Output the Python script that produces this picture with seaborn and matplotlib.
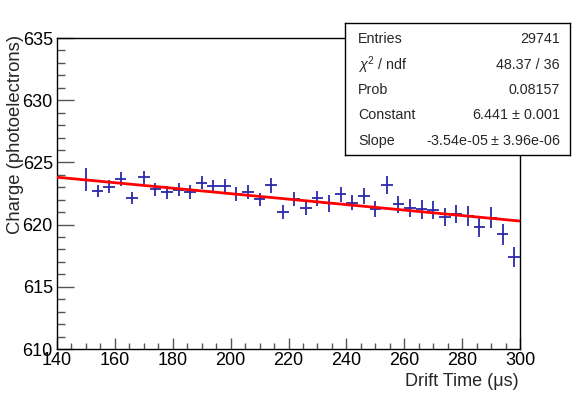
import numpy as np
import pandas as pd
import matplotlib
matplotlib.use("Agg")
import matplotlib.pyplot as plt
from matplotlib.ticker import MultipleLocator
import seaborn as sns

# ---- data ----
drift_time = [150, 154, 158, 162, 166, 170, 174, 178, 182, 186,
              190, 194, 198, 202, 206, 210, 214, 218, 222, 226,
              230, 234, 238, 242, 246, 250, 254, 258, 262, 266,
              270, 274, 278, 282, 286, 290, 294, 298]
charge = [623.6, 622.7, 623.05, 623.7, 622.16, 623.8, 622.84, 622.6, 622.8, 622.6,
          623.37, 623.1, 623.1, 622.44, 622.65, 622.03, 623.16, 621.0, 622.03, 621.36,
          622.1, 621.7, 622.44, 621.76, 622.3, 621.25, 623.18, 621.63, 621.36, 621.23,
          621.17, 620.59, 620.85, 620.69, 619.83, 620.56, 619.22, 617.4]
charge_err = [0.92, 0.5, 0.5, 0.56, 0.5, 0.52, 0.51, 0.54, 0.54, 0.56,
              0.54, 0.5, 0.56, 0.56, 0.56, 0.52, 0.6, 0.55, 0.56, 0.58,
              0.6, 0.67, 0.62, 0.6, 0.64, 0.67, 0.7, 0.68, 0.71, 0.78,
              0.74, 0.74, 0.74, 0.78, 0.83, 0.84, 0.83, 0.8]
bin_half_width = 2.0

fit_constant = 6.4408
fit_slope = -3.54e-05
fit_range = [140, 300]

stat_labels = ["Entries", "$\\chi^{2}$ / ndf", "Prob", "Constant", "Slope"]
stat_values = ["29741", "48.37 / 36", "0.08157", "6.441 $\\pm$ 0.001",
               "-3.54e-05 $\\pm$ 3.96e-06"]

x_label = "Drift Time (\u03bcs)"
y_label = "Charge (photoelectrons)"

# ---- style ----
sns.set_style("white")
plt.rcParams["font.family"] = ["Liberation Sans", "DejaVu Sans"]
plt.rcParams["mathtext.fontset"] = "custom"
plt.rcParams["mathtext.rm"] = "Liberation Sans"
plt.rcParams["mathtext.it"] = "Liberation Sans:italic"

fig = plt.figure(figsize=(5.81, 3.94), dpi=100)
ax = fig.add_axes([57 / 581, 45 / 394, 463 / 581, 311 / 394])

df = pd.DataFrame({"x": drift_time, "y": charge, "err": charge_err})

# data crosses
ax.errorbar(df["x"], df["y"], yerr=df["err"], xerr=bin_half_width,
            fmt="none", ecolor="#2a2aaa", elinewidth=1.3, capsize=0, zorder=3)

# fit line (exponential)
xf = np.linspace(fit_range[0], fit_range[1], 200)
fit_df = pd.DataFrame({"x": xf, "y": np.exp(fit_constant + fit_slope * xf)})
sns.lineplot(data=fit_df, x="x", y="y", ax=ax, color="red", linewidth=2.0, zorder=4)

ax.set_xlim(140, 300)
ax.set_ylim(610, 635)
ax.xaxis.set_major_locator(MultipleLocator(20))
ax.xaxis.set_minor_locator(MultipleLocator(5))
ax.yaxis.set_major_locator(MultipleLocator(5))
ax.yaxis.set_minor_locator(MultipleLocator(1))

ax.tick_params(axis="both", which="both", direction="in", colors="#555555",
               labelcolor="black", labelsize=13,
               left=True, bottom=True, top=False, right=False)
ax.tick_params(axis="x", which="major", length=8, width=1, pad=2)
ax.tick_params(axis="x", which="minor", length=4, width=1)
ax.tick_params(axis="y", which="major", length=12, width=1, pad=3)
ax.tick_params(axis="y", which="minor", length=6, width=1)

for s in ax.spines.values():
    s.set_color("black")
    s.set_linewidth(1.0)

ax.set_xlabel("")
ax.set_ylabel("")
fig.text(519 / 581, 1 - 381 / 394, x_label, ha="right", va="center", fontsize=13)
fig.text(16 / 581, 1 - 35 / 394, y_label, ha="center", va="top", rotation=90,
         fontsize=13.3)

# stat box
bx0, by0, bx1, by1 = 345, 23, 570, 155
box_ax = fig.add_axes([bx0 / 581, 1 - by1 / 394, (bx1 - bx0) / 581, (by1 - by0) / 394])
box_ax.set_xlim(0, 1)
box_ax.set_ylim(0, 1)
box_ax.set_xticks([])
box_ax.set_yticks([])
box_ax.set_facecolor("white")
for s in box_ax.spines.values():
    s.set_color("black")
    s.set_linewidth(1.0)
row_px = [39, 65, 90, 115, 141]
for lab, val, ry in zip(stat_labels, stat_values, row_px):
    yy = (by1 - ry) / (by1 - by0)
    box_ax.text((358 - bx0) / (bx1 - bx0), yy, lab, ha="left", va="center", fontsize=10.3)
    box_ax.text((560 - bx0) / (bx1 - bx0), yy, val, ha="right", va="center", fontsize=10.3)

fig.savefig("out.png", dpi=100)
